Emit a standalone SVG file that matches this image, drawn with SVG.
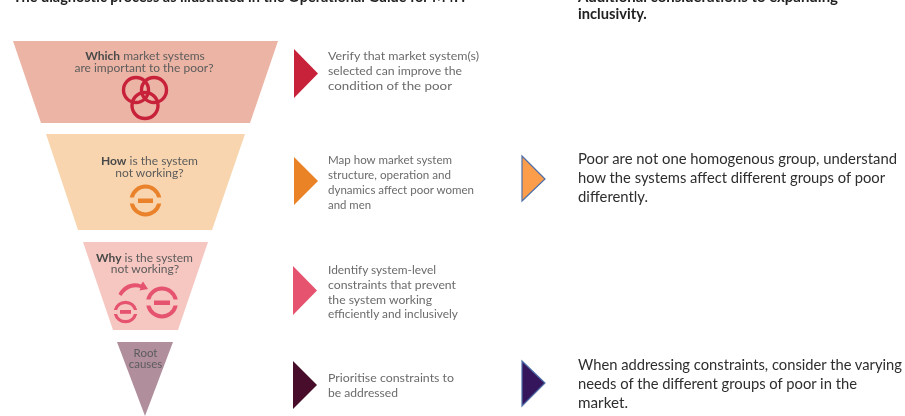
<svg xmlns="http://www.w3.org/2000/svg" width="905" height="416" viewBox="0 0 905 416">
<style>
.g{font-family:"Lato","Open Sans",sans-serif;font-size:12.2px;fill:#6b6b6b}
.c{font-family:"Lato","Open Sans",sans-serif;font-size:12px;fill:#5c5c5c;text-anchor:middle}
.b{font-weight:700;fill:#4a4a4a}
.k{font-family:"Lato","Open Sans",sans-serif;font-size:14.7px;fill:#2e2e2e}
.h{font-weight:700;fill:#222}
.ring{fill:none;stroke-width:3.4}
</style>
<defs><filter id="soft" x="0" y="0" width="100%" height="100%"><feGaussianBlur stdDeviation="0.45"/></filter></defs>
<rect width="905" height="416" fill="#fff"/>
<g filter="url(#soft)">
<text class="k h" x="13" y="1.500" textLength="452" lengthAdjust="spacingAndGlyphs">The diagnostic process as illustrated in the Operational Guide for M4P.</text>
<text class="k h" x="578" y="1.500" textLength="260" lengthAdjust="spacingAndGlyphs">Additional considerations to expanding</text>
<text class="k h" x="578" y="19">inclusivity.</text>
<g id="level-which">
<polygon points="13,41 278,41 250,123 41,123" fill="#ecb4a4"/>
<text class="c" x="145" y="60"><tspan class="b">Which</tspan> market systems</text>
<text class="c" x="144" y="71.500">are important to the poor?</text>
<g class="ring" stroke="#c8213a"><circle cx="136" cy="90" r="12.500"/><circle cx="154" cy="90" r="12.500"/><circle cx="145" cy="105.500" r="13"/></g>
</g>
<g id="level-how">
<polygon points="46,134 245,134 212,230 78,230" fill="#f8d5ae"/>
<text class="c" x="149.500" y="165"><tspan class="b">How</tspan> is the system</text>
<text class="c" x="149.500" y="177">not working?</text>
<g fill="#e9822c"><path d="M129.800 197.500A16 16 0 0 1 161.200 197.500L157.100 197.500A12 12 0 0 0 133.900 197.500Z"/><path d="M129.800 203.500A16 16 0 0 0 161.200 203.500L157.100 203.500A12 12 0 0 1 133.900 203.500Z"/><rect x="138" y="198.500" width="15" height="4.500"/></g>
</g>
<g id="level-why">
<polygon points="83,242 208,242 178,330 113,330" fill="#f6c6c0"/>
<text class="c" x="144.500" y="262"><tspan class="b">Why</tspan> is the system</text>
<text class="c" x="145" y="273">not working?</text>
<g fill="#e5536e"><path d="M113.800 310A12 12 0 0 1 137.200 310L134 310A9 9 0 0 0 117 310Z"/><path d="M113.800 314A12 12 0 0 0 137.200 314L134 314A9 9 0 0 1 117 314Z"/><rect x="120" y="310" width="11" height="3.800"/><path d="M146.300 299.500A16 16 0 0 1 177.700 299.500L173.600 299.500A12 12 0 0 0 150.400 299.500Z"/><path d="M146.300 305.500A16 16 0 0 0 177.700 305.500L173.600 305.500A12 12 0 0 1 150.400 305.500Z"/><rect x="154" y="300.500" width="16" height="4.500"/><path d="M118.500 294C123 285 133 281 141 284.500L143 281.500L148 289L139.500 290.500L140.500 288C134 285.500 126 288.500 121.500 296Z"/></g>
</g>
<g id="level-root">
<polygon points="117,342 173,342 145,416" fill="#b08e9c"/>
<text class="c" x="145.500" y="357" style="font-size:11.500px">Root</text>
<text class="c" x="145.500" y="368" style="font-size:11.500px">causes</text>
</g>
<g id="step-verify">
<polygon points="294,49 318,73.500 294,98" fill="#c8213a"/>
<text class="g" x="328" y="60" textLength="151" lengthAdjust="spacingAndGlyphs">Verify that market system(s)</text>
<text class="g" x="328" y="75" textLength="134" lengthAdjust="spacingAndGlyphs">selected can improve the</text>
<text class="g" x="328" y="90" textLength="124" lengthAdjust="spacingAndGlyphs">condition of the poor</text>
</g>
<g id="step-map">
<polygon points="294,157 318,181 294,205" fill="#ea8228"/>
<text class="g" x="328" y="164" textLength="124" lengthAdjust="spacingAndGlyphs">Map how market system</text>
<text class="g" x="328" y="179" textLength="123" lengthAdjust="spacingAndGlyphs">structure, operation and</text>
<text class="g" x="328" y="194" textLength="146" lengthAdjust="spacingAndGlyphs">dynamics affect poor women</text>
<text class="g" x="328" y="209" textLength="43" lengthAdjust="spacingAndGlyphs">and men</text>
</g>
<g id="step-identify">
<polygon points="293,266 317,290.500 293,315" fill="#e5536e"/>
<text class="g" x="328" y="274" textLength="108" lengthAdjust="spacingAndGlyphs">Identify system-level</text>
<text class="g" x="328" y="289" textLength="128" lengthAdjust="spacingAndGlyphs">constraints that prevent</text>
<text class="g" x="328" y="304" textLength="104" lengthAdjust="spacingAndGlyphs">the system working</text>
<text class="g" x="328" y="318" textLength="130" lengthAdjust="spacingAndGlyphs">efficiently and inclusively</text>
</g>
<g id="step-prioritise">
<polygon points="293,361 317,385 293,409" fill="#470f2c"/>
<text class="g" x="328" y="382" textLength="126" lengthAdjust="spacingAndGlyphs">Prioritise constraints to</text>
<text class="g" x="328" y="397" textLength="70" lengthAdjust="spacingAndGlyphs">be addressed</text>
</g>
<g id="note-poor">
<polygon points="522,156 545,179 522,201" fill="#fb9d4b" stroke="#4f6fa8" stroke-width="1.200"/>
<text class="k" x="578" y="164" textLength="319" lengthAdjust="spacingAndGlyphs">Poor are not one homogenous group, understand</text>
<text class="k" x="578" y="183" textLength="307" lengthAdjust="spacingAndGlyphs">how the systems affect different groups of poor</text>
<text class="k" x="578" y="202" textLength="70" lengthAdjust="spacingAndGlyphs">differently.</text>
</g>
<g id="note-constraints">
<polygon points="522,361 545,383 522,406" fill="#34195c" stroke="#4f6fa8" stroke-width="1.200"/>
<text class="k" x="578" y="370" textLength="324" lengthAdjust="spacingAndGlyphs">When addressing constraints, consider the varying</text>
<text class="k" x="578" y="389" textLength="279" lengthAdjust="spacingAndGlyphs">needs of the different groups of poor in the</text>
<text class="k" x="578" y="408" textLength="50" lengthAdjust="spacingAndGlyphs">market.</text>
</g>
</g>
<g id="connectors"></g>
</svg>
